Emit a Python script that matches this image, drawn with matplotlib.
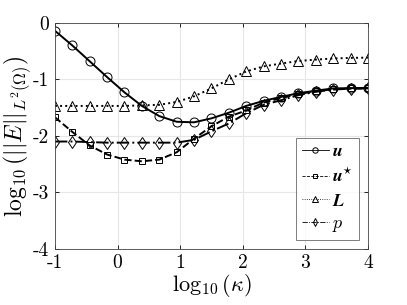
import matplotlib
matplotlib.use("Agg")
import matplotlib.pyplot as plt
import numpy as np

plt.rcParams['mathtext.fontset'] = 'cm'
plt.rcParams['font.family'] = 'cmr10'
plt.rcParams['axes.unicode_minus'] = False

# datos
log_kappa = np.linspace(-1, 4, 19)
err_u = [-0.14, -0.40, -0.68, -0.96, -1.23, -1.47, -1.65, -1.75, -1.76, -1.69,
         -1.59, -1.47, -1.38, -1.31, -1.245, -1.20, -1.16, -1.155, -1.15]
err_ustar = [-1.67, -1.93, -2.17, -2.33, -2.42, -2.45, -2.42, -2.29, -2.05, -1.83,
             -1.66, -1.55, -1.41, -1.33, -1.26, -1.21, -1.175, -1.16, -1.16]
err_L = [-1.47, -1.47, -1.47, -1.47, -1.47, -1.46, -1.45, -1.40, -1.30, -1.16,
         -1.00, -0.86, -0.77, -0.72, -0.675, -0.65, -0.63, -0.62, -0.615]
err_p = [-2.10, -2.10, -2.11, -2.12, -2.12, -2.12, -2.12, -2.12, -2.07, -1.92,
         -1.78, -1.60, -1.45, -1.37, -1.28, -1.22, -1.18, -1.165, -1.16]

xticks = [-1, 0, 1, 2, 3, 4]
yticks = [0, -1, -2, -3, -4]

fig = plt.figure(figsize=(4.07, 3.05), dpi=100)
ax = fig.add_axes([0.135, 0.184, 0.769, 0.741])

kw = dict(color='k', mfc='none', mec='k', lw=1.4, mew=0.7)
ax.plot(log_kappa, err_u, '-', marker='o', ms=6.5, label=r'$\mathbfit{u}$', **kw)
ax.plot(log_kappa, err_ustar, '--', marker='s', ms=5, label=r'$\mathbfit{u}^{\star}$', **kw)
ax.plot(log_kappa, err_L, ':', marker='^', ms=6.5, label=r'$\mathbfit{L}$', **kw)
ax.plot(log_kappa, err_p, '-.', marker='d', ms=6.5, label=r'$p$', **kw)

ax.set_xlim(-1, 4)
ax.set_ylim(-4, 0)
ax.set_xticks(xticks)
ax.set_xticklabels([str(t) for t in xticks], fontsize=14)
ax.set_yticks(yticks)
ax.set_yticklabels([str(t) for t in yticks], fontsize=14)
ax.tick_params(direction='in', top=True, right=True, length=3, width=0.6, pad=4)
ax.grid(True, color='#e6e6e6', lw=0.8)
ax.set_axisbelow(True)
for s in ax.spines.values():
    s.set_linewidth(0.6)
    s.set_color('#444444')

ax.set_xlabel(r'$\log_{10}(\kappa)$', fontsize=16, labelpad=0)
ax.set_ylabel(r'$\log_{10}(||E||_{L^2(\Omega)})$', fontsize=17, labelpad=0)

leg = ax.legend(loc='lower right', fontsize=13, frameon=True, fancybox=False,
                handlelength=1.5, handletextpad=0.2, labelspacing=0.4,
                borderpad=0.3, borderaxespad=0.5, markerscale=0.6)
leg.get_frame().set_edgecolor('#444444')
leg.get_frame().set_linewidth(0.6)
for line in leg.get_lines():
    line.set_linewidth(0.6)

fig.savefig('out.png', dpi=100)
